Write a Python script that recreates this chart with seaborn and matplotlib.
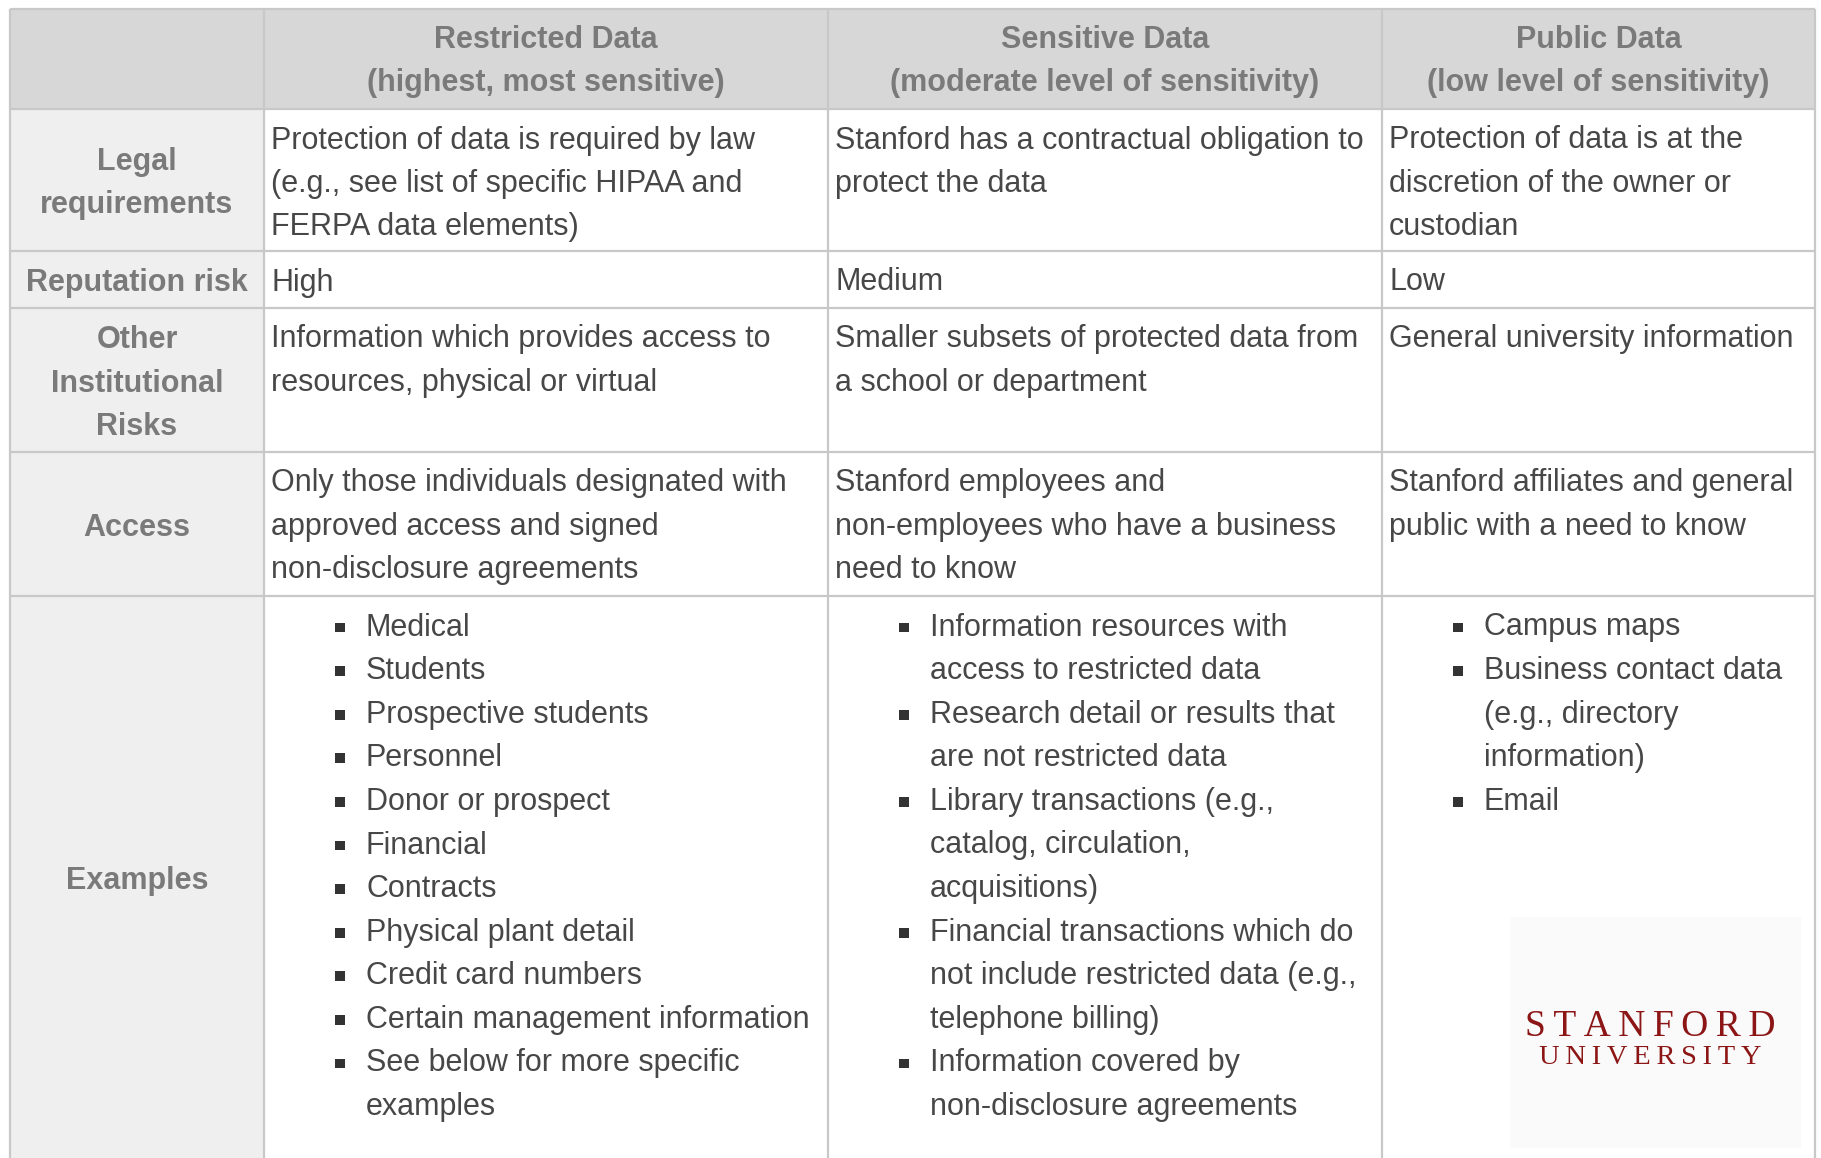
import matplotlib
matplotlib.use("Agg")
import matplotlib.pyplot as plt
import seaborn as sns
import pandas as pd

# ---------------- data (table content) ----------------
col_titles = ["Restricted Data", "Sensitive Data", "Public Data"]
col_subtitles = ["(highest, most sensitive)", "(moderate level of sensitivity)", "(low level of sensitivity)"]

row_labels = [["Legal", "requirements"], ["Reputation risk"], ["Other", "Institutional", "Risks"],
              ["Access"], ["Examples"]]

legal_req = [
    ["Protection of data is required by law", "(e.g., see list of specific HIPAA and", "FERPA data elements)"],
    ["Stanford has a contractual obligation to", "protect the data"],
    ["Protection of data is at the", "discretion of the owner or", "custodian"],
]
reputation_risk = [["High"], ["Medium"], ["Low"]]
other_risks = [
    ["Information which provides access to", "resources, physical or virtual"],
    ["Smaller subsets of protected data from", "a school or department"],
    ["General university information"],
]
access = [
    ["Only those individuals designated with", "approved access and signed", "non-disclosure agreements"],
    ["Stanford employees and", "non-employees who have a business", "need to know"],
    ["Stanford affiliates and general", "public with a need to know"],
]
restricted_examples = [["Medical"], ["Students"], ["Prospective students"], ["Personnel"],
                       ["Donor or prospect"], ["Financial"], ["Contracts"], ["Physical plant detail"],
                       ["Credit card numbers"], ["Certain management information"],
                       ["See below for more specific", "examples"]]
sensitive_examples = [["Information resources with", "access to restricted data"],
                      ["Research detail or results that", "are not restricted data"],
                      ["Library transactions (e.g.,", "catalog, circulation,", "acquisitions)"],
                      ["Financial transactions which do", "not include restricted data (e.g.,", "telephone billing)"],
                      ["Information covered by", "non-disclosure agreements"]]
public_examples = [["Campus maps"], ["Business contact data", "(e.g., directory", "information)"], ["Email"]]

logo_line1 = "STANFORD"
logo_line2 = "UNIVERSITY"

# ---------------- layout ----------------
W, H = 1821, 1158
x_edges = [10, 264, 828, 1382, 1815]
y_edges = [9, 109, 251, 308, 452, 596, 1158]
LH = 43.4
FS = 22
DY = 3.5  # small vertical nudge of text

HEADER_BG = "#d7d7d7"
LABEL_BG = "#efefef"
GRID = "#c8c8c8"
HEAD_TXT = "#7a7a7a"
BODY_TXT = "#474747"

sns.set_theme(style="white")
plt.rcParams["font.family"] = ["Liberation Sans", "DejaVu Sans"]

fig = plt.figure(figsize=(W / 100, H / 100), dpi=100)
ax = fig.add_axes([0, 0, 1, 1])

# backgrounds
ax.add_patch(plt.Rectangle((x_edges[0], y_edges[0]), x_edges[-1] - x_edges[0], y_edges[1] - y_edges[0],
                           facecolor=HEADER_BG, edgecolor="none", zorder=0))
ax.add_patch(plt.Rectangle((x_edges[0], y_edges[1]), x_edges[1] - x_edges[0], H - y_edges[1],
                           facecolor=LABEL_BG, edgecolor="none", zorder=0))

# grid lines
for y in y_edges[:-1]:
    ax.plot([x_edges[0], x_edges[-1]], [y, y], color=GRID, lw=1.6, zorder=1, solid_capstyle="butt")
for x in x_edges:
    ax.plot([x, x], [y_edges[0], H], color=GRID, lw=1.6, zorder=1, solid_capstyle="butt")

# header
for i, (t, s) in enumerate(zip(col_titles, col_subtitles)):
    cx = (x_edges[i + 1] + x_edges[i + 2]) / 2
    ax.text(cx, 37 + DY, t, ha="center", va="center", fontsize=FS, fontweight="bold", color=HEAD_TXT)
    ax.text(cx, 80 + DY, s, ha="center", va="center", fontsize=FS, fontweight="bold", color=HEAD_TXT)

# row labels
lx = (x_edges[0] + x_edges[1]) / 2
for r, lines in enumerate(row_labels):
    cy = (y_edges[r + 1] + y_edges[r + 2]) / 2 + DY
    n = len(lines)
    for k, ln in enumerate(lines):
        ax.text(lx, cy + (k - (n - 1) / 2) * LH, ln, ha="center", va="center",
                fontsize=FS, fontweight="bold", color=HEAD_TXT)

# plain text rows
text_rows = [legal_req, reputation_risk, other_risks, access]
for r, row in enumerate(text_rows):
    top = y_edges[r + 1]
    for c, lines in enumerate(row):
        x0 = x_edges[c + 1] + 7
        for k, ln in enumerate(lines):
            ax.text(x0, top + 28 + DY + k * LH, ln, ha="left", va="center", fontsize=FS, color=BODY_TXT)

# example bullet lists
ex_cols = [restricted_examples, sensitive_examples, public_examples]
bullet_rows = []
for c, items in enumerate(ex_cols):
    x_bullet = x_edges[c + 1] + 76
    x_text = x_edges[c + 1] + 102
    line = 0
    for item in items:
        y_item = y_edges[5] + 28 + DY + line * 43.6
        bullet_rows.append({"x": x_bullet, "y": y_item})
        for k, ln in enumerate(item):
            ax.text(x_text, y_edges[5] + 28 + DY + (line + k) * 43.6, ln, ha="left", va="center",
                    fontsize=FS, color=BODY_TXT)
        line += len(item)

bullets = pd.DataFrame(bullet_rows)
sns.scatterplot(data=bullets, x="x", y="y", marker="s", s=50, color="#333333",
                edgecolor="none", ax=ax, zorder=3, legend=False)

# logo
ax.add_patch(plt.Rectangle((1510, 917), 291, 231, facecolor="#f9faf9", edgecolor="none", zorder=0.5))
sp = "\u2009"
ax.text(1650, 1027, sp.join(logo_line1), ha="center", va="center", fontsize=27,
        family=["Liberation Serif", "DejaVu Serif"], color="#8c1515", zorder=2)
ax.text(1650, 1057, sp.join(logo_line2), ha="center", va="center", fontsize=20.5,
        family=["Liberation Serif", "DejaVu Serif"], color="#8c1515", zorder=2)

ax.set_xlim(0, W)
ax.set_ylim(H, 0)
ax.axis("off")

fig.savefig("out.png", dpi=100, facecolor="white")
